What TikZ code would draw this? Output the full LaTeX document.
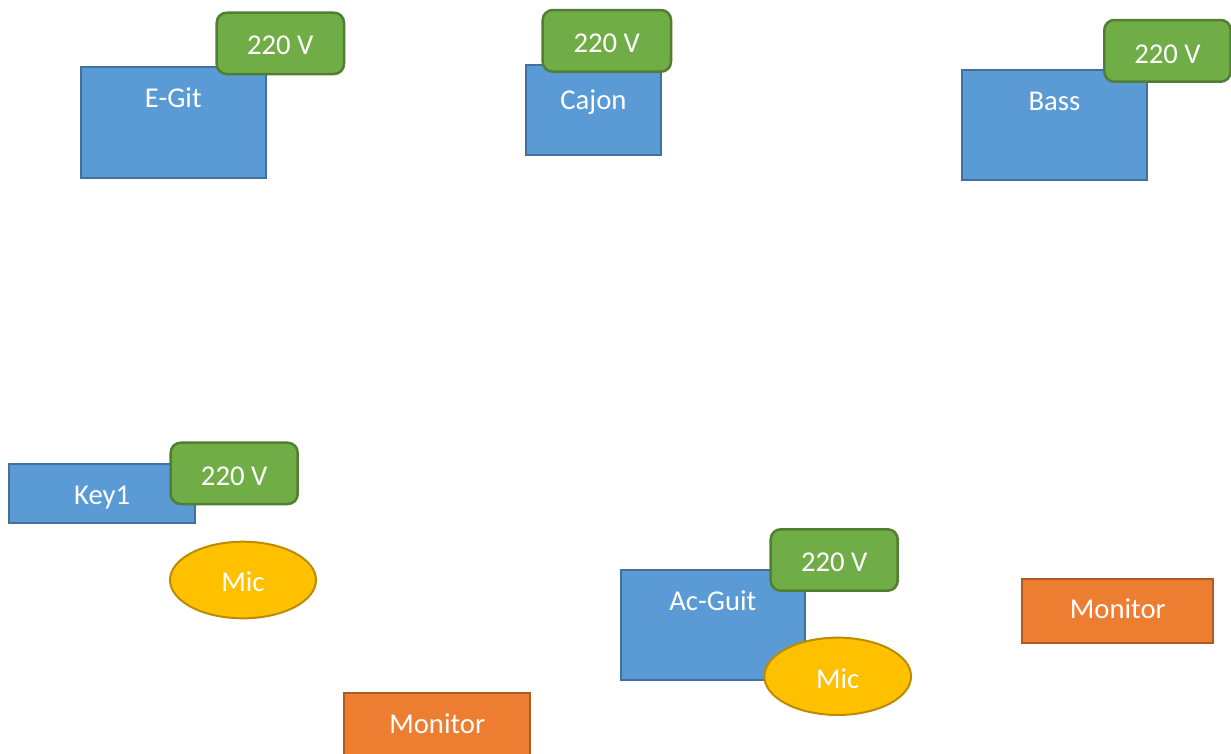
\documentclass[tikz,border=0pt]{standalone}
\usepackage{fontspec}
\setmainfont{Carlito}
\usetikzlibrary{shapes.geometric}
\definecolor{bluefill}{HTML}{5B9BD5}
\definecolor{blueline}{HTML}{41719C}
\definecolor{greenfill}{HTML}{70AD47}
\definecolor{greenline}{HTML}{507E32}
\definecolor{orangefill}{HTML}{ED7D31}
\definecolor{orangeline}{HTML}{AE5A21}
\definecolor{yellowfill}{HTML}{FFC000}
\definecolor{yellowline}{HTML}{BC8C00}
\tikzset{
  box/.style={anchor=north west, inner sep=0pt, outer sep=0pt},
  instr/.style={box, draw=blueline, fill=bluefill, line width=2pt},
  power/.style={box, draw=greenline, fill=greenfill, line width=2.5pt, rounded corners=10pt},
  monitorbox/.style={box, draw=orangeline, fill=orangefill, line width=2pt},
  mic/.style={ellipse, draw=yellowline, fill=yellowfill, line width=2pt, inner sep=0pt},
  txt/.style={anchor=base, text=white, inner sep=0pt, font=\fontsize{28.7}{34}\selectfont}
}
\begin{document}
\begin{tikzpicture}[x=1pt,y=-1pt]
\useasboundingbox (0,0) rectangle (1231,753);
\clip (0,0) rectangle (1231,753);
% E-Git
\node[instr, minimum width=185.3pt, minimum height=110.4pt] (egit) at (80.7,67.3) {};
\node[txt] (egit-t) at (173.3,107) {E-Git};
\node[power, minimum width=127.3pt, minimum height=61.3pt] (egitv) at (216.7,12.7) {};
\node[txt] (egitv-t) at (280.3,54.3) {220 V};
% Cajon
\node[instr, minimum width=135.6pt, minimum height=89.7pt] (cajon) at (525.7,65.3) {};
\node[txt] (cajon-t) at (593.5,109.3) {Cajon};
\node[power, minimum width=128.3pt, minimum height=61.7pt] (cajonv) at (542.7,10) {};
\node[txt] (cajonv-t) at (606.8,52.7) {220 V};
% Bass
\node[instr, minimum width=185pt, minimum height=110.3pt] (bass) at (962,69.7) {};
\node[txt] (bass-t) at (1054.5,110) {Bass};
\node[power, minimum width=126.4pt, minimum height=61.7pt] (bassv) at (1104.3,20) {};
\node[txt] (bassv-t) at (1167.5,63.3) {220 V};
% Key1
\node[instr, minimum width=185.7pt, minimum height=58.7pt] (key) at (9.3,464.3) {};
\node[txt] (key-t) at (102.2,504) {Key1};
\node[power, minimum width=127pt, minimum height=61.3pt] (keyv) at (170.7,442.7) {};
\node[txt] (keyv-t) at (234.2,485) {220 V};
% Mic left
\node[mic, minimum width=146pt, minimum height=76.6pt] (mic1) at (243,580) {};
\node[txt] (mic1-t) at (243,591.7) {Mic};
% Monitor bottom
\node[monitorbox, minimum width=185.7pt, minimum height=64pt] (mon1) at (344.3,693.3) {};
\node[txt] (mon1-t) at (437.2,733.3) {Monitor};
% Ac-Guit
\node[instr, minimum width=184.3pt, minimum height=110pt] (acg) at (620.7,570) {};
\node[txt] (acg-t) at (712.8,610) {Ac-Guit};
\node[power, minimum width=127pt, minimum height=61.4pt] (acgv) at (770.7,529.3) {};
\node[txt] (acgv-t) at (834.2,571.7) {220 V};
\node[mic, minimum width=146.7pt, minimum height=77.3pt] (mic2) at (837.7,676.3) {};
\node[txt] (mic2-t) at (837.7,688.3) {Mic};
% Monitor right
\node[monitorbox, minimum width=191pt, minimum height=64pt] (mon2) at (1022.3,579.3) {};
\node[txt] (mon2-t) at (1117.8,618.3) {Monitor};
\end{tikzpicture}
\end{document}
